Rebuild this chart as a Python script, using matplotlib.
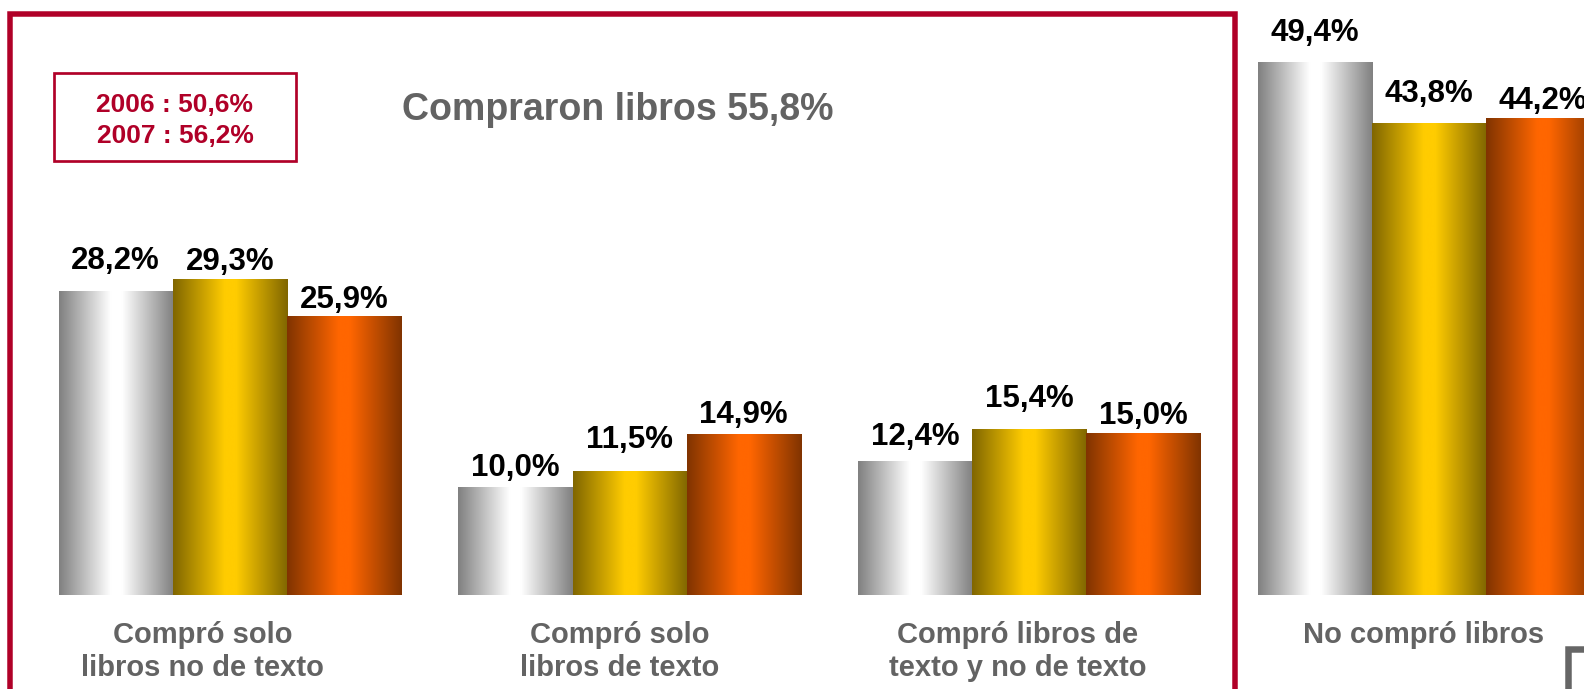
import numpy as np
import matplotlib
matplotlib.use("Agg")
import matplotlib.pyplot as plt
from matplotlib.colors import LinearSegmentedColormap
from matplotlib.patches import Rectangle

plt.rcParams["font.family"] = ["Liberation Sans", "DejaVu Sans"]

# share of population (%) by book purchase type, one list per year
categories = ["Compró solo\nlibros no de texto", "Compró solo\nlibros de texto",
              "Compró libros de\ntexto y no de texto", "No compró libros"]
years = ["2006", "2007", "2008"]
pct_2006 = [28.2, 10.0, 12.4, 49.4]
pct_2007 = [29.3, 11.5, 15.4, 43.8]
pct_2008 = [25.9, 14.9, 15.0, 44.2]

W, H = 1584, 689
BAR_PX = 114.2        # one bar width in pixels
UNIT_PX = 10.77       # pixels per percentage point
BASE_Y = 594.5        # baseline, pixels from top
FIRST_CENTER = 229.9  # first group centre, pixels from left
GROUP_STEP = 3.5      # group spacing in bar widths

RED = "#b00028"
GREY = "#636363"

# (dark edge, bright centre) for each year's cylinder shading
ramps = [("#808080", "#ffffff"), ("#806600", "#ffcc00"), ("#803300", "#ff6600")]

# vertical gap (px) between each bar top and its value label
label_gap = [[22, 9, 8], [11, 23, 11], [16, 22, 9], [21, 21, 9]]
# horizontal nudge (px) of each category name from its group centre
name_shift = [-27, -10, -12, -5]


def fmt(v):
    return f"{v:.1f}".replace(".", ",") + "%"


def fig_xy(x, y):
    return x / W, 1 - y / H


fig = plt.figure(figsize=(W / 100, H / 100), dpi=100)
ax = fig.add_axes([0, 0, 1, 1])
ax.axis("off")

centers = np.arange(len(categories)) * GROUP_STEP
grad = np.linspace(0, 1, 256)[np.newaxis, :]

for k, (year, vals) in enumerate(zip(years, [pct_2006, pct_2007, pct_2008])):
    dark, light = ramps[k]
    cmap = LinearSegmentedColormap.from_list(
        year, [(0, dark), (0.45, light), (0.55, light), (1, dark)])
    bars = ax.bar(centers + (k - 1), vals, width=1.0, color="none", linewidth=0)
    for i, patch in enumerate(bars):
        x0, w, h = patch.get_x(), patch.get_width(), patch.get_height()
        ax.imshow(grad, cmap=cmap, extent=[x0, x0 + w, 0, h], aspect="auto",
                  interpolation="bicubic", zorder=2)
        ax.annotate(fmt(vals[i]), xy=(x0 + w / 2, h),
                    xytext=(0, label_gap[i][k] * 0.72), textcoords="offset points",
                    ha="center", va="baseline", fontsize=22.5, fontweight="bold",
                    color="black", annotation_clip=False)

# category names under each group
for i, cat in enumerate(categories):
    for j, line in enumerate(cat.split("\n")):
        ax.annotate(line, xy=(centers[i], 0),
                    xytext=(name_shift[i] * 0.72, -(48.8 + j * 32.7) * 0.72),
                    textcoords="offset points",
                    ha="center", va="baseline", fontsize=21, fontweight="bold",
                    color=GREY)

ax.set_xlim(-FIRST_CENTER / BAR_PX, (W - FIRST_CENTER) / BAR_PX)
ax.set_ylim(-(H - BASE_Y) / UNIT_PX, BASE_Y / UNIT_PX)

# frame around the "bought books" groups
fig.add_artist(Rectangle((10 / W, -0.05), (1234.5 - 10) / W, (H - 14) / H + 0.05,
                         transform=fig.transFigure, fill=False, ec=RED,
                         lw=5.5 * 0.72, joinstyle="miter"))

fig.text(*fig_xy(618, 120), "Compraron libros " + fmt(100 - pct_2008[3]),
         ha="center", va="baseline", fontsize=27, fontweight="bold", color=GREY)

# earlier years' totals
x0, y0 = fig_xy(54.3, 160.7)
fig.add_artist(Rectangle((x0, y0), (295.7 - 54.3) / W, (160.7 - 73.3) / H,
                         transform=fig.transFigure, fill=False, ec=RED,
                         lw=2.7 * 0.72, joinstyle="miter"))
for j, (year, vals) in enumerate(zip(years[:2], [pct_2006, pct_2007])):
    fig.text(*fig_xy(175, 111.7 + j * 31.6), f"{year} : {fmt(100 - vals[3])}",
             ha="center", va="baseline", fontsize=19, fontweight="bold", color=RED)

# corner of the neighbouring note box
fig.add_artist(Rectangle((1567.5 / W, -0.05), 0.1, (H - 649) / H + 0.05,
                         transform=fig.transFigure, fill=False, ec="#666666",
                         lw=6.5 * 0.72, joinstyle="miter"))

fig.savefig("out.png", dpi=100)
